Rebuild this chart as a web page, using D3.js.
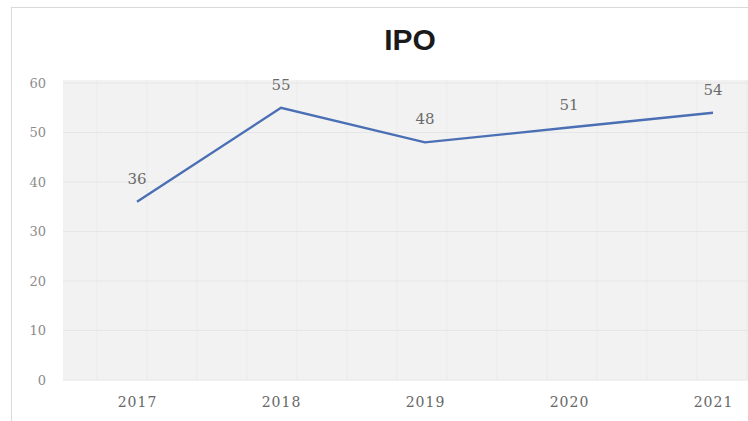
<!DOCTYPE html>
<html lang="en">
<head>
<meta charset="UTF-8">
<title>IPO</title>
<style>
  body { margin: 0; background: #fff; }
</style>
</head>
<body>
<script src="https://d3js.org/d3.v7.min.js"></script>
<script>
const years = ['2017', '2018', '2019', '2020', '2021'];
const ipoCounts = [36, 55, 48, 51, 54];
const yTicks = [0, 10, 20, 30, 40, 50, 60];

const width = 748, height = 421;
const margin = {top: 80, right: -37, bottom: 41, left: 65};
const serif = '"DejaVu Serif", serif';

const svg = d3.select('body').append('svg')
  .attr('width', width)
  .attr('height', height);

// outer chart border (only top and left visible in the crop)
svg.append('line')
  .attr('x1', 11).attr('x2', width).attr('y1', 7.5).attr('y2', 7.5)
  .attr('stroke', '#d9d9d9');
svg.append('line')
  .attr('x1', 11.5).attr('x2', 11.5).attr('y1', 7).attr('y2', height)
  .attr('stroke', '#d9d9d9');

const x = d3.scalePoint()
  .domain(years)
  .range([margin.left, width - margin.right])
  .padding(0.5);

const y = d3.scaleLinear()
  .domain([0, 60])
  .range([height - margin.bottom, 83]);

// plot area
svg.append('rect')
  .attr('x', margin.left - 2)
  .attr('y', margin.top)
  .attr('width', width - margin.left + 2)
  .attr('height', y(0) - margin.top)
  .attr('fill', '#f2f2f2');

// faint vertical grid
const vLines = d3.range(97, width, 50);
svg.append('g').selectAll('line')
  .data(vLines)
  .join('line')
  .attr('x1', d => d).attr('x2', d => d)
  .attr('y1', margin.top).attr('y2', y(0))
  .attr('stroke', '#ebebeb');

// horizontal grid
svg.append('g').selectAll('line')
  .data(yTicks)
  .join('line')
  .attr('x1', margin.left - 2).attr('x2', width)
  .attr('y1', d => y(d)).attr('y2', d => y(d))
  .attr('stroke', '#e6e6e6');

// y axis labels
const yAxis = d3.axisLeft(y).tickValues(yTicks).tickSize(0).tickPadding(0);
svg.append('g')
  .attr('transform', `translate(${46}, 0)`)
  .call(yAxis)
  .call(g => g.select('.domain').remove())
  .call(g => g.selectAll('text')
    .attr('fill', '#8c8c8c')
    .style('font-family', serif)
    .style('font-size', '13px'));

// x axis labels
const xAxis = d3.axisBottom(x).tickSize(0).tickPadding(0);
svg.append('g')
  .attr('transform', `translate(0, ${y(0) + 17})`)
  .call(xAxis)
  .call(g => g.select('.domain').remove())
  .call(g => g.selectAll('text')
    .attr('fill', '#666')
    .style('font-family', serif)
    .style('font-size', '14px')
    .style('letter-spacing', '1px'));

// title
svg.append('text')
  .attr('x', 410)
  .attr('y', 50)
  .attr('text-anchor', 'middle')
  .attr('fill', '#1a1a1a')
  .style('font-family', '"Liberation Sans", Arial, sans-serif')
  .style('font-weight', 'bold')
  .style('font-size', '30px')
  .text('IPO');

const line = d3.line()
  .x((d, i) => x(years[i]))
  .y(d => y(d));

svg.append('path')
  .datum(ipoCounts)
  .attr('d', line)
  .attr('fill', 'none')
  .attr('stroke', '#4a6fb5')
  .attr('stroke-width', 2.4);

// data labels
svg.append('g').selectAll('text')
  .data(ipoCounts)
  .join('text')
  .attr('x', (d, i) => x(years[i]))
  .attr('y', d => y(d) - 18)
  .attr('text-anchor', 'middle')
  .attr('fill', '#6b6b6b')
  .style('font-family', serif)
  .style('font-size', '15px')
  .text(d => d);
</script>
</body>
</html>
